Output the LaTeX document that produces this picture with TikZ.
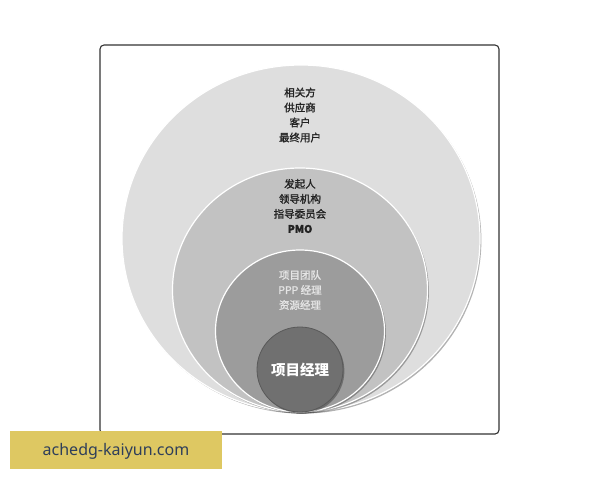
\documentclass[tikz,border=0pt]{standalone}
\usepackage{fontspec}
\setmainfont{Noto Sans}
\newfontfamily\cjk{Noto Sans CJK SC}
\newfontfamily\cjkm[FakeBold=1.3]{Noto Sans CJK SC}
\usetikzlibrary{shapes.geometric,shadows}
\definecolor{ringA}{HTML}{DEDEDE}
\definecolor{ringB}{HTML}{C2C2C2}
\definecolor{ringC}{HTML}{9C9C9C}
\definecolor{ringD}{HTML}{707070}
\definecolor{framecol}{HTML}{333333}
\definecolor{wmfill}{HTML}{DEC862}
\definecolor{wmtext}{HTML}{2E3E5A}
\definecolor{txtdark}{HTML}{222222}
\tikzset{
  ring/.style={ellipse, inner sep=0pt, draw=white, line width=1.2pt,
    drop shadow={shadow xshift=1.4pt, shadow yshift=-1.6pt, fill=black, opacity=0.3}},
  ringlabel/.style={font=\cjkm\fontsize{10.5}{15}\selectfont, align=center, inner sep=0pt},
}
\begin{document}
\begin{tikzpicture}[x=1pt,y=-1pt]
\useasboundingbox (0,0) rectangle (600,480);
\fill[white] (0,0) rectangle (600,480);
\node[draw=framecol, line width=1.1pt, rounded corners=4pt, minimum width=399pt, minimum height=389pt, inner sep=0pt] (frame) at (299.5,239.5) {};
\node[ring, fill=ringA, minimum width=358pt, minimum height=347pt] (outer) at (301,238.5) {};
\node[ring, fill=ringB, minimum width=255pt, minimum height=244pt] (second) at (300,290) {};
\node[ring, fill=ringC, minimum width=169pt, minimum height=162pt] (third) at (300,331) {};
\node[ring, fill=ringD, draw=gray!70!black, line width=0.8pt, minimum width=86pt, minimum height=85pt] (inner) at (300,369.5) {};
\node[ringlabel, text=txtdark] (lblA) at (300,115) {相关方\\供应商\\客户\\最终用户};
\node[ringlabel, text=txtdark] (lblB) at (300,206) {发起人\\领导机构\\指导委员会\\{\bfseries PMO}};
\node[ringlabel, text=white!90!black] (lblC) at (300,290) {项目团队\\PPP 经理\\资源经理};
\node[ringlabel, text=white, font=\cjk\bfseries\fontsize{14.5}{16}\selectfont] (lblD) at (300,370) {项目经理};
\node[fill=wmfill, minimum width=212pt, minimum height=38pt, inner sep=0pt] (wm) at (116,450) {};
\node[text=wmtext, font=\fontsize{16}{18}\selectfont, inner sep=0pt] (wmtxt) at (116,451) {achedg-kaiyun.com};
\end{tikzpicture}
\end{document}
